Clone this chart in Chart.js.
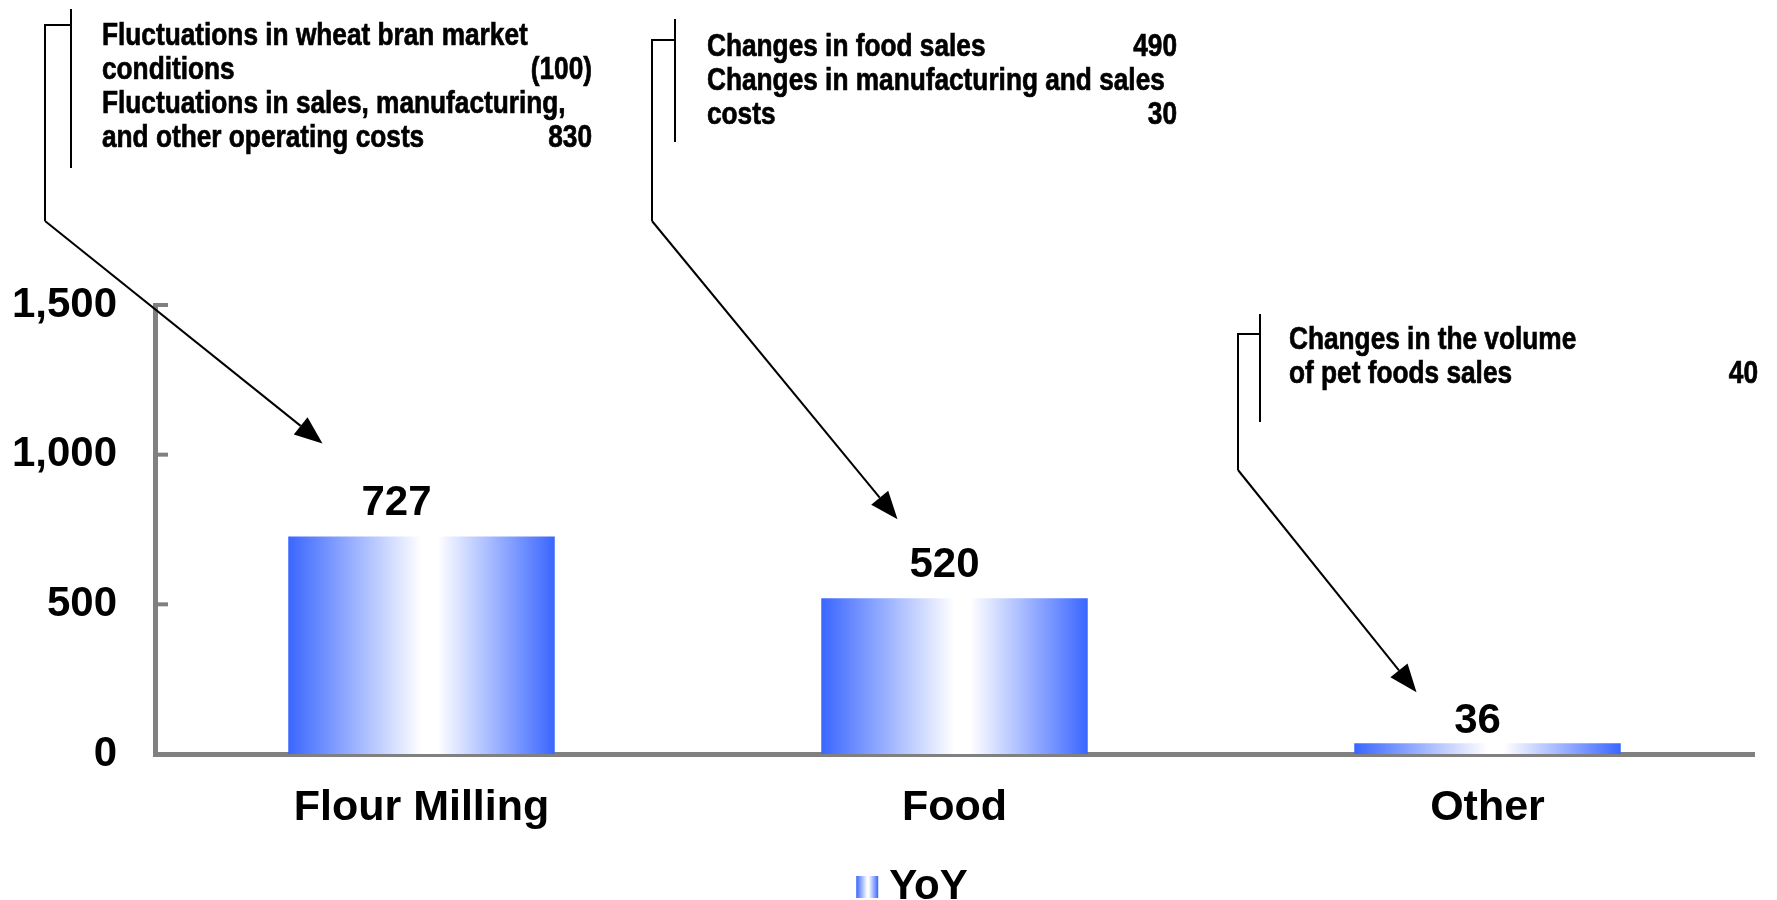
<!DOCTYPE html>
<html>
<head>
<meta charset="utf-8">
<title>YoY by segment</title>
<script src="https://cdn.jsdelivr.net/npm/chart.js@4.4.0/dist/chart.umd.min.js"></script>
<style>
    html, body { margin: 0; padding: 0; background: #fff; overflow: hidden; }
    #wrap { position: relative; width: 1777px; height: 918px; }
</style>
</head>
<body>
<div id="wrap"><canvas id="myChart"></canvas></div>
<script>
/* ---------- DATA ---------- */
const categories = ['Flour Milling', 'Food', 'Other'];
const yoyValues = [727, 520, 36];
const seriesLabel = 'YoY';
const axisMin = 0;
const axisMax = 1500;
const axisStep = 500;

// callout text: [line, amount]
const flourNotes = [
    ['Fluctuations in wheat bran market', ''],
    ['conditions', '(100)'],
    ['Fluctuations in sales, manufacturing,', ''],
    ['and other operating costs', '830']
];
const foodNotes = [
    ['Changes in food sales', '490'],
    ['Changes in manufacturing and sales', ''],
    ['costs', '30']
];
const otherNotes = [
    ['Changes in the volume', ''],
    ['of pet foods sales', '40']
];

/* ---------- STYLE ---------- */
const FONT = '"Liberation Sans", Arial, Helvetica, sans-serif';
const BLUE = '#3a66ff';
const AXIS_GREY = '#808080';
const NOTE_FONT = 'bold 32px ' + FONT;
const NOTE_SCALE = 0.82;          // narrow face for the callouts
const BAR_SHARE = 0.5;            // bar width as part of a category slot
const labelLift = [33, 33, 22];
const labelShift = [-25, -10, -10];
const LEGEND_SHIFT = 30;
const SWATCH = 22;

const callouts = [
    { notes: flourNotes, bar: 0, textX: 102, numX: 592, firstLine: 36, lineGap: 34,
      rule: [71, 9, 168], hookY: 25, stemX: 45, stemBottom: 221, tipDx: -99, tipDy: -93 },
    { notes: foodNotes, bar: 1, textX: 707, numX: 1177, firstLine: 47, lineGap: 34,
      rule: [675, 19, 142], hookY: 40, stemX: 652, stemBottom: 221, tipDx: -57, tipDy: -79 },
    { notes: otherNotes, bar: 2, textX: 1289, numX: 1758, firstLine: 340, lineGap: 34,
      rule: [1260, 314, 422], hookY: 334, stemX: 1238, stemBottom: 470, tipDx: -71, tipDy: -51 }
];

/* ---------- UTILITY ---------- */
function barGradient(ctx, left, right) {
    const g = ctx.createLinearGradient(left, 0, right, 0);
    g.addColorStop(0, BLUE);
    g.addColorStop(0.5, '#ffffff');
    g.addColorStop(0.56, '#ffffff');
    g.addColorStop(1, BLUE);
    return g;
}

// each bar gets its own left-to-right fade, worked out from the category scale
function barFill(c) {
    const xs = c.chart.scales.x;
    if (!xs || c.dataIndex === undefined) return BLUE;
    const cx = xs.getPixelForValue(c.dataIndex);
    const half = xs.width / categories.length * BAR_SHARE / 2;
    if (!Number.isFinite(cx) || !Number.isFinite(half) || half <= 0) return BLUE;
    return barGradient(c.chart.ctx, cx - half, cx + half);
}

// squeezed, slightly heavier text for the callouts
function narrowText(ctx, text, x, y, align) {
    ctx.save();
    ctx.translate(x, y);
    ctx.scale(NOTE_SCALE, 1);
    ctx.textAlign = align;
    ctx.lineWidth = 0.7;
    ctx.fillText(text, 0, 0);
    ctx.strokeText(text, 0, 0);
    ctx.restore();
}

function arrow(ctx, x1, y1, x2, y2) {
    const ang = Math.atan2(y2 - y1, x2 - x1);
    const len = 28, half = 11;
    const bx = x2 - len * Math.cos(ang), by = y2 - len * Math.sin(ang);
    ctx.beginPath();
    ctx.moveTo(x1, y1);
    ctx.lineTo(bx, by);
    ctx.stroke();
    ctx.beginPath();
    ctx.moveTo(x2, y2);
    ctx.lineTo(bx + half * Math.sin(ang), by - half * Math.cos(ang));
    ctx.lineTo(bx - half * Math.sin(ang), by + half * Math.cos(ang));
    ctx.closePath();
    ctx.fill();
}

/* ---------- PLUGINS ---------- */
// legend: nudge it right and paint the swatch close to its text
const legendTweak = {
    id: 'legendTweak',
    afterLayout(chart) {
        chart.legend.left += LEGEND_SHIFT;
        chart.legend.right += LEGEND_SHIFT;
    },
    beforeDraw(chart) {
        const item = chart.legend.legendItems[0];
        if (!item) return;
        item.fillStyle = 'rgba(0,0,0,0)';
        item.lineWidth = 0;
    },
    afterDraw(chart) {
        const legend = chart.legend;
        const hb = legend.legendHitBoxes[0];
        if (!hb) return;
        const opts = legend.options.labels;
        const textX = hb.left + opts.boxWidth + opts.font.size / 2;
        const x0 = textX - 11 - SWATCH;
        const y0 = hb.top + (hb.height - SWATCH) / 2;
        const ctx = chart.ctx;
        ctx.save();
        ctx.fillStyle = barGradient(ctx, x0, x0 + SWATCH);
        ctx.fillRect(x0, y0, SWATCH, SWATCH);
        ctx.restore();
    }
};

const innerTicks = {
    id: 'innerTicks',
    afterDatasetsDraw(chart) {
        const ctx = chart.ctx;
        const y = chart.scales.y;
        ctx.save();
        ctx.strokeStyle = AXIS_GREY;
        ctx.lineWidth = 4;
        y.ticks.forEach(t => {
            if (t.value <= axisMin) return;
            const py = y.getPixelForValue(t.value);
            ctx.beginPath();
            ctx.moveTo(chart.chartArea.left, py);
            ctx.lineTo(chart.chartArea.left + 13, py);
            ctx.stroke();
        });
        ctx.restore();
    }
};

const valueLabels = {
    id: 'valueLabels',
    afterDatasetsDraw(chart) {
        const ctx = chart.ctx;
        ctx.save();
        ctx.fillStyle = '#000';
        ctx.font = 'bold 42px ' + FONT;
        ctx.textAlign = 'center';
        ctx.textBaseline = 'middle';
        chart.getDatasetMeta(0).data.forEach((bar, i) => {
            ctx.fillText(String(yoyValues[i]), bar.x + labelShift[i], bar.y - labelLift[i]);
        });
        ctx.restore();
    }
};

const calloutNotes = {
    id: 'calloutNotes',
    afterDraw(chart) {
        const ctx = chart.ctx;
        const bars = chart.getDatasetMeta(0).data;
        ctx.save();
        ctx.fillStyle = '#000';
        ctx.strokeStyle = '#000';
        ctx.font = NOTE_FONT;
        ctx.textBaseline = 'middle';
        callouts.forEach(c => {
            c.notes.forEach((row, k) => {
                const ly = c.firstLine + k * c.lineGap;
                narrowText(ctx, row[0], c.textX, ly, 'left');
                if (row[1]) narrowText(ctx, row[1], c.numX, ly, 'right');
            });
            ctx.lineWidth = 2;
            // bracket beside the text
            ctx.beginPath();
            ctx.moveTo(c.rule[0], c.rule[1]);
            ctx.lineTo(c.rule[0], c.rule[2]);
            ctx.moveTo(c.rule[0], c.hookY);
            ctx.lineTo(c.stemX, c.hookY);
            ctx.lineTo(c.stemX, c.stemBottom);
            ctx.stroke();
            // leader down to the bar
            const bar = bars[c.bar];
            arrow(ctx, c.stemX, c.stemBottom, bar.x + c.tipDx, bar.y + c.tipDy);
        });
        ctx.restore();
    }
};

/* ---------- CHART ---------- */
const ctx = document.getElementById('myChart').getContext('2d');

new Chart(ctx, {
    type: 'bar',
    data: {
        labels: categories,
        datasets: [{
            label: seriesLabel,
            data: yoyValues,
            backgroundColor: barFill,
            borderWidth: 0,
            barPercentage: 1,
            categoryPercentage: BAR_SHARE
        }]
    },
    options: {
        responsive: true,
        maintainAspectRatio: false,
        animation: false,
        devicePixelRatio: 1,
        layout: { padding: { top: 305, right: 23, left: 0, bottom: 0 } },
        plugins: {
            legend: {
                position: 'bottom',
                labels: {
                    color: '#000',
                    font: { family: FONT, size: 42, weight: 'bold' },
                    boxWidth: 22,
                    boxHeight: 22,
                    padding: 10
                }
            },
            tooltip: { enabled: false }
        },
        scales: {
            x: {
                grid: { display: false, drawTicks: false },
                border: { display: true, color: AXIS_GREY, width: 5 },
                ticks: {
                    color: '#000',
                    font: { family: FONT, size: 43, weight: 'bold' },
                    padding: 28
                },
                afterFit: s => { s.height = 102; }
            },
            y: {
                min: axisMin,
                max: axisMax,
                grid: { display: false, drawTicks: false },
                border: { display: true, color: AXIS_GREY, width: 5 },
                ticks: {
                    stepSize: axisStep,
                    color: '#000',
                    font: { family: FONT, size: 42, weight: 'bold' },
                    padding: 38
                },
                afterFit: s => { s.width = 155; }
            }
        }
    },
    plugins: [legendTweak, innerTicks, valueLabels, calloutNotes]
});
</script>
</body>
</html>
